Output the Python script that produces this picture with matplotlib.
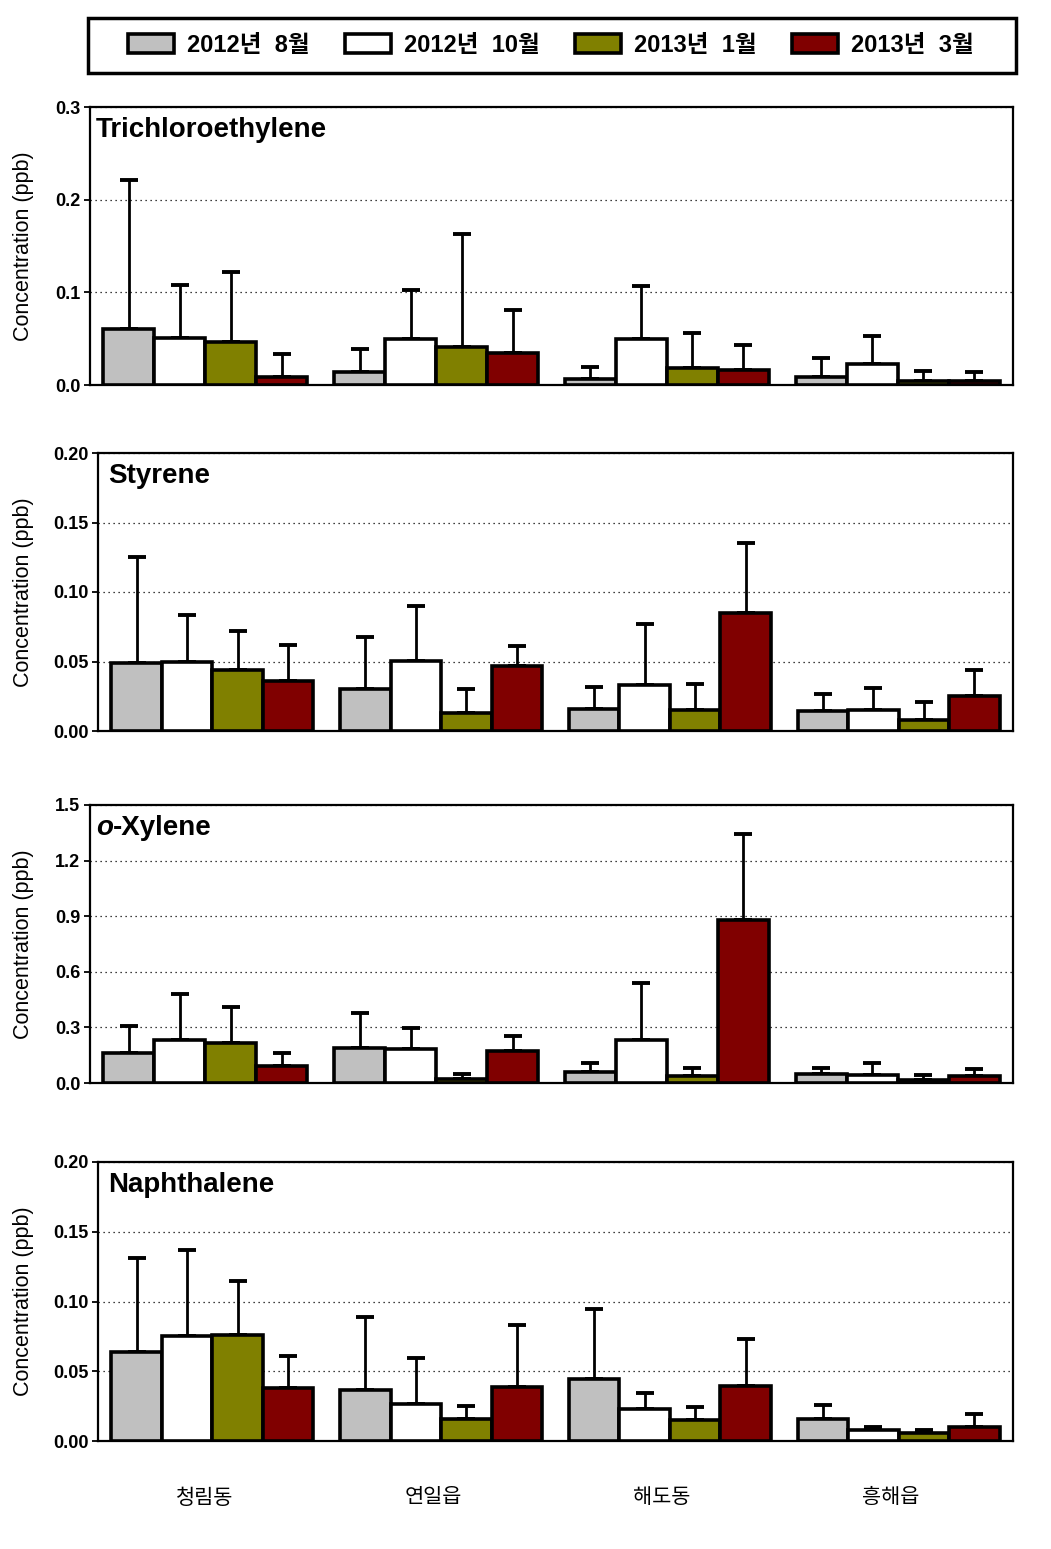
import matplotlib
matplotlib.use("Agg")
import matplotlib.pyplot as plt
import numpy as np
from matplotlib.patches import Patch, Rectangle
from matplotlib.ticker import FormatStrFormatter
from matplotlib.transforms import ScaledTranslation

plt.rcParams["font.family"] = ["Liberation Sans", "Noto Sans CJK KR"]

# ---- data ---------------------------------------------------------------
sites   = ["청림동", "연일읍", "해도동", "흥해읍"]
periods = ["2012년  8월", "2012년  10월", "2013년  1월", "2013년  3월"]
colors  = ["#C0C0C0", "#FFFFFF", "#808000", "#800000"]

# rows = periods, cols = sites
tce_mean = [[0.060, 0.014, 0.006, 0.009],
            [0.051, 0.050, 0.050, 0.023],
            [0.046, 0.041, 0.018, 0.004],
            [0.009, 0.035, 0.016, 0.004]]
tce_sd   = [[0.161, 0.025, 0.013, 0.020],
            [0.057, 0.052, 0.057, 0.030],
            [0.076, 0.122, 0.038, 0.011],
            [0.024, 0.046, 0.027, 0.010]]

sty_mean = [[0.049, 0.030, 0.016, 0.0146],
            [0.050, 0.0505, 0.033, 0.0148],
            [0.044, 0.013, 0.015, 0.0077],
            [0.036, 0.047, 0.0847, 0.025]]
sty_sd   = [[0.076, 0.0375, 0.016, 0.0122],
            [0.0335, 0.0395, 0.044, 0.0162],
            [0.028, 0.017, 0.0185, 0.0133],
            [0.026, 0.0145, 0.0503, 0.019]]

oxy_mean = [[0.164, 0.191, 0.059, 0.050],
            [0.234, 0.185, 0.230, 0.045],
            [0.218, 0.023, 0.038, 0.018],
            [0.090, 0.173, 0.880, 0.038]]
oxy_sd   = [[0.146, 0.185, 0.047, 0.033],
            [0.245, 0.112, 0.312, 0.065],
            [0.194, 0.027, 0.041, 0.027],
            [0.074, 0.083, 0.461, 0.039]]

nap_mean = [[0.0636, 0.0366, 0.0445, 0.0158],
            [0.075, 0.0266, 0.023, 0.0079],
            [0.076, 0.0158, 0.0153, 0.0057],
            [0.0378, 0.0388, 0.0395, 0.0098]]
nap_sd   = [[0.0674, 0.0522, 0.0502, 0.0100],
            [0.0616, 0.0330, 0.0114, 0.0024],
            [0.0390, 0.0091, 0.0091, 0.0024],
            [0.0232, 0.0440, 0.0337, 0.0096]]

# ---- layout (pixels of the 1051x1549 target) -----------------------------
W, H = 1051, 1549
fig = plt.figure(figsize=(W / 100, H / 100), dpi=100)
fig.patch.set_facecolor("white")

panels = [
    # name, mean, sd, ymax, yticks, fmt, left px, top px, bottom px
    ("Trichloroethylene", tce_mean, tce_sd, 0.3, np.arange(0, 0.31, 0.1), "%.1f", 90, 107, 385),
    ("Styrene", sty_mean, sty_sd, 0.20, np.arange(0, 0.201, 0.05), "%.2f", 98, 453, 731),
    ("o-Xylene", oxy_mean, oxy_sd, 1.5, np.arange(0, 1.51, 0.3), "%.1f", 90, 805, 1083),
    ("Naphthalene", nap_mean, nap_sd, 0.20, np.arange(0, 0.201, 0.05), "%.2f", 98, 1162, 1441),
]
RIGHT = 1013
BW = 0.221
x = np.arange(len(sites))

for k, (name, mean, sd, ymax, yt, fmt, lpx, tpx, bpx) in enumerate(panels):
    ax = fig.add_axes([lpx / W, 1 - bpx / H, (RIGHT - lpx) / W, (bpx - tpx) / H])
    for j in range(len(periods)):
        m = np.array(mean[j]); s = np.array(sd[j])
        ax.bar(x + (j - 1.5) * BW, m, BW, color=colors[j], edgecolor="black",
               linewidth=2.6, zorder=3,
               yerr=[np.zeros_like(s), s],
               error_kw=dict(ecolor="black", elinewidth=2.0, capsize=6.5,
                             capthick=2.8, zorder=2))
    ax.set_xlim(-0.5, len(sites) - 0.5)
    ax.set_ylim(0, ymax)
    ax.set_yticks(yt)
    ax.yaxis.set_major_formatter(FormatStrFormatter(fmt))
    ax.yaxis.grid(True, linestyle=(0, (1, 3)), color="black", linewidth=0.9)
    ax.set_axisbelow(True)
    for sp in ax.spines.values():
        sp.set_linewidth(1.6)
    ax.tick_params(axis="y", direction="out", length=4, width=1.3,
                   labelsize=13, pad=3)
    for t in ax.get_yticklabels():
        t.set_fontweight("bold")
    if k == len(panels) - 1:
        ax.set_xticks(x)
        ax.set_xticklabels(sites, fontsize=15)
        ax.tick_params(axis="x", length=0, pad=34)
        shift = ScaledTranslation(-8 / 100, 0, fig.dpi_scale_trans)
        for t in ax.get_xticklabels():
            t.set_transform(t.get_transform() + shift)
    else:
        ax.set_xticks([])

    # panel title, top-left inside the frame
    tx = (96 - lpx) / (RIGHT - lpx) if lpx == 90 else (108 - lpx) / (RIGHT - lpx)
    if name == "o-Xylene":
        t0 = ax.text(tx, 0.918, "o", transform=ax.transAxes, fontsize=20,
                     fontweight="bold", fontstyle="italic", ha="left", va="center")
        ax.annotate("-Xylene", xy=(1, 0), xycoords=t0, fontsize=20,
                    fontweight="bold", ha="left", va="bottom")
    else:
        ax.text(tx, 0.918, name, transform=ax.transAxes, fontsize=20,
                fontweight="bold", ha="left", va="center")

    fig.text(24 / W, 1 - (tpx + bpx) / 2 / H, "Concentration (ppb)",
             rotation=90, ha="center", va="center", fontsize=15.5)

# ---- legend in a framed box across the top --------------------------------
handles = [Patch(facecolor=c, edgecolor="black", linewidth=2.6, label=p)
           for c, p in zip(colors, periods)]
fig.legend(handles=handles, loc="center", bbox_to_anchor=(551 / W, 1 - 45.5 / H),
           ncol=4, frameon=False, prop={"weight": "bold", "size": 17},
           handlelength=1.95, handleheight=0.85, handletextpad=0.55,
           columnspacing=1.5)
fig.add_artist(Rectangle((88 / W, 1 - 73 / H), (1016 - 88) / W, 55 / H,
                         transform=fig.transFigure, fill=False,
                         edgecolor="black", linewidth=2.5))

fig.savefig("out.png", dpi=100)
